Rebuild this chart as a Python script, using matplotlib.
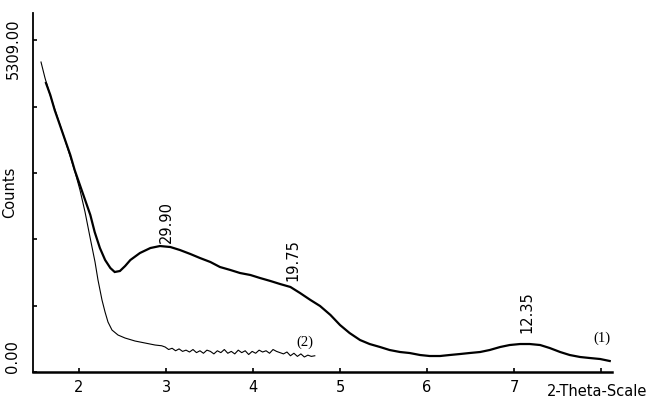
import matplotlib
matplotlib.use("Agg")
import matplotlib.pyplot as plt
import numpy as np
from matplotlib.transforms import ScaledTranslation

# ---- data ----
x1 = [1.62, 1.67, 1.72, 1.78, 1.84, 1.90, 1.95, 2.01, 2.07, 2.13, 2.18, 2.24, 2.30, 2.36,
      2.41, 2.47, 2.53, 2.59, 2.70, 2.82, 2.93, 3.05, 3.16, 3.28, 3.39, 3.51, 3.62, 3.74,
      3.85, 3.97, 4.08, 4.20, 4.31, 4.43, 4.54, 4.66, 4.77, 4.89, 5.00, 5.11, 5.23, 5.34,
      5.46, 5.57, 5.69, 5.80, 5.92, 6.03, 6.15, 6.26, 6.38, 6.49, 6.61, 6.72, 6.84, 6.95,
      7.07, 7.18, 7.30, 7.41, 7.53, 7.64, 7.76, 7.87, 7.99, 8.10]
y1 = [4627, 4435, 4195, 3955, 3714, 3474, 3234, 2994, 2754, 2514, 2241, 1985, 1793, 1665,
      1601, 1617, 1697, 1793, 1905, 1985, 2017, 2001, 1953, 1889, 1825, 1761, 1681, 1633,
      1585, 1553, 1505, 1457, 1409, 1361, 1265, 1153, 1057, 913, 752, 624, 512, 448,
      400, 352, 320, 304, 272, 256, 256, 272, 288, 304, 320, 352, 400, 432,
      448, 448, 432, 384, 320, 272, 240, 224, 208, 176]

x2 = [1.563, 1.609, 1.667, 1.724, 1.782, 1.839, 1.897, 1.954, 2.011, 2.069, 2.126, 2.184,
      2.218, 2.241, 2.264, 2.299, 2.333, 2.379, 2.448, 2.529, 2.644, 2.759, 2.874, 2.95,
      2.99, 3.03, 3.07, 3.11, 3.15, 3.19, 3.23, 3.27, 3.31, 3.35, 3.39, 3.43, 3.47, 3.51,
      3.55, 3.59, 3.63, 3.67, 3.71, 3.75, 3.79, 3.83, 3.87, 3.91, 3.95, 3.99, 4.03, 4.07,
      4.11, 4.15, 4.19, 4.23, 4.27, 4.31, 4.35, 4.39, 4.43, 4.47, 4.51, 4.55, 4.59, 4.63,
      4.67, 4.71]
y2 = [4963, 4707, 4435, 4195, 3955, 3714, 3458, 3202, 2914, 2562, 2161, 1761,
      1473, 1313, 1153, 961, 800, 672, 592, 544, 496, 464, 432, 420,
      400, 360, 380, 340, 370, 330, 350, 320, 360, 310, 340, 300, 350, 330,
      290, 340, 310, 360, 300, 330, 290, 350, 310, 340, 280, 330, 300, 350,
      320, 340, 300, 360, 330, 310, 290, 320, 260, 300, 250, 290, 240, 270,
      250, 260]

peak_labels = ["29.90", "19.75", "12.35"]
peak_x = [3.0, 4.46, 7.15]
peak_y = [2400, 1790, 960]

curve_labels = ["(1)", "(2)"]
curve_label_x = [8.01, 4.60]
curve_label_y = [545, 480]

xticks = [2, 3, 4, 5, 6, 7, 8]
xtick_labels = ["2", "3", "4", "5", "6", "7", ""]
yticks = [0, 1061.8, 2123.6, 3185.4, 4247.2, 5309]
ytick_labels = ["0.00", "", "", "", "", "5309.00"]

FS = 10.5

# ---- figure ----
fig = plt.figure(figsize=(6.54, 3.98), dpi=100)
ax = fig.add_axes([33/654, 26/398, (612-33)/654, (372-13)/398])

ax.plot(x1, y1, color="black", lw=1.6, solid_joinstyle="miter")
ax.plot(x2, y2, color="black", lw=0.8)

ax.set_xlim(1.471, 8.126)
ax.set_ylim(0, 5748)

for s in ["top", "right"]:
    ax.spines[s].set_visible(False)
ax.spines["bottom"].set_linewidth(1.8)
ax.spines["left"].set_linewidth(1.3)

ax.set_xticks(xticks)
ax.set_xticklabels(xtick_labels, fontsize=FS)
ax.set_yticks(yticks)
ax.set_yticklabels(ytick_labels, fontsize=FS, rotation=90, va="center")
ax.tick_params(axis="both", direction="in", length=3, width=1.2, color="black")
ax.tick_params(axis="x", pad=6)
ax.tick_params(axis="y", pad=9)

for lab, off in zip(ax.get_yticklabels(), [15, 0, 0, 0, 0, -8]):
    lab.set_transform(lab.get_transform() + ScaledTranslation(0, off/100, fig.dpi_scale_trans))

ax.set_ylabel("Counts", fontsize=FS)
ax.yaxis.set_label_coords(-0.027, 0.5)
fig.text(597/654, 1 - 391/398, "2-Theta-Scale", fontsize=FS, ha="center", va="center")

for t, xx, yy in zip(peak_labels, peak_x, peak_y):
    ax.text(xx, yy, t, rotation=90, fontsize=FS, ha="center", va="center")
for t, xx, yy in zip(curve_labels, curve_label_x, curve_label_y):
    ax.text(xx, yy, t, fontsize=FS, ha="center", va="center", family="Liberation Serif")

fig.savefig("out.png", dpi=100, facecolor="white")
